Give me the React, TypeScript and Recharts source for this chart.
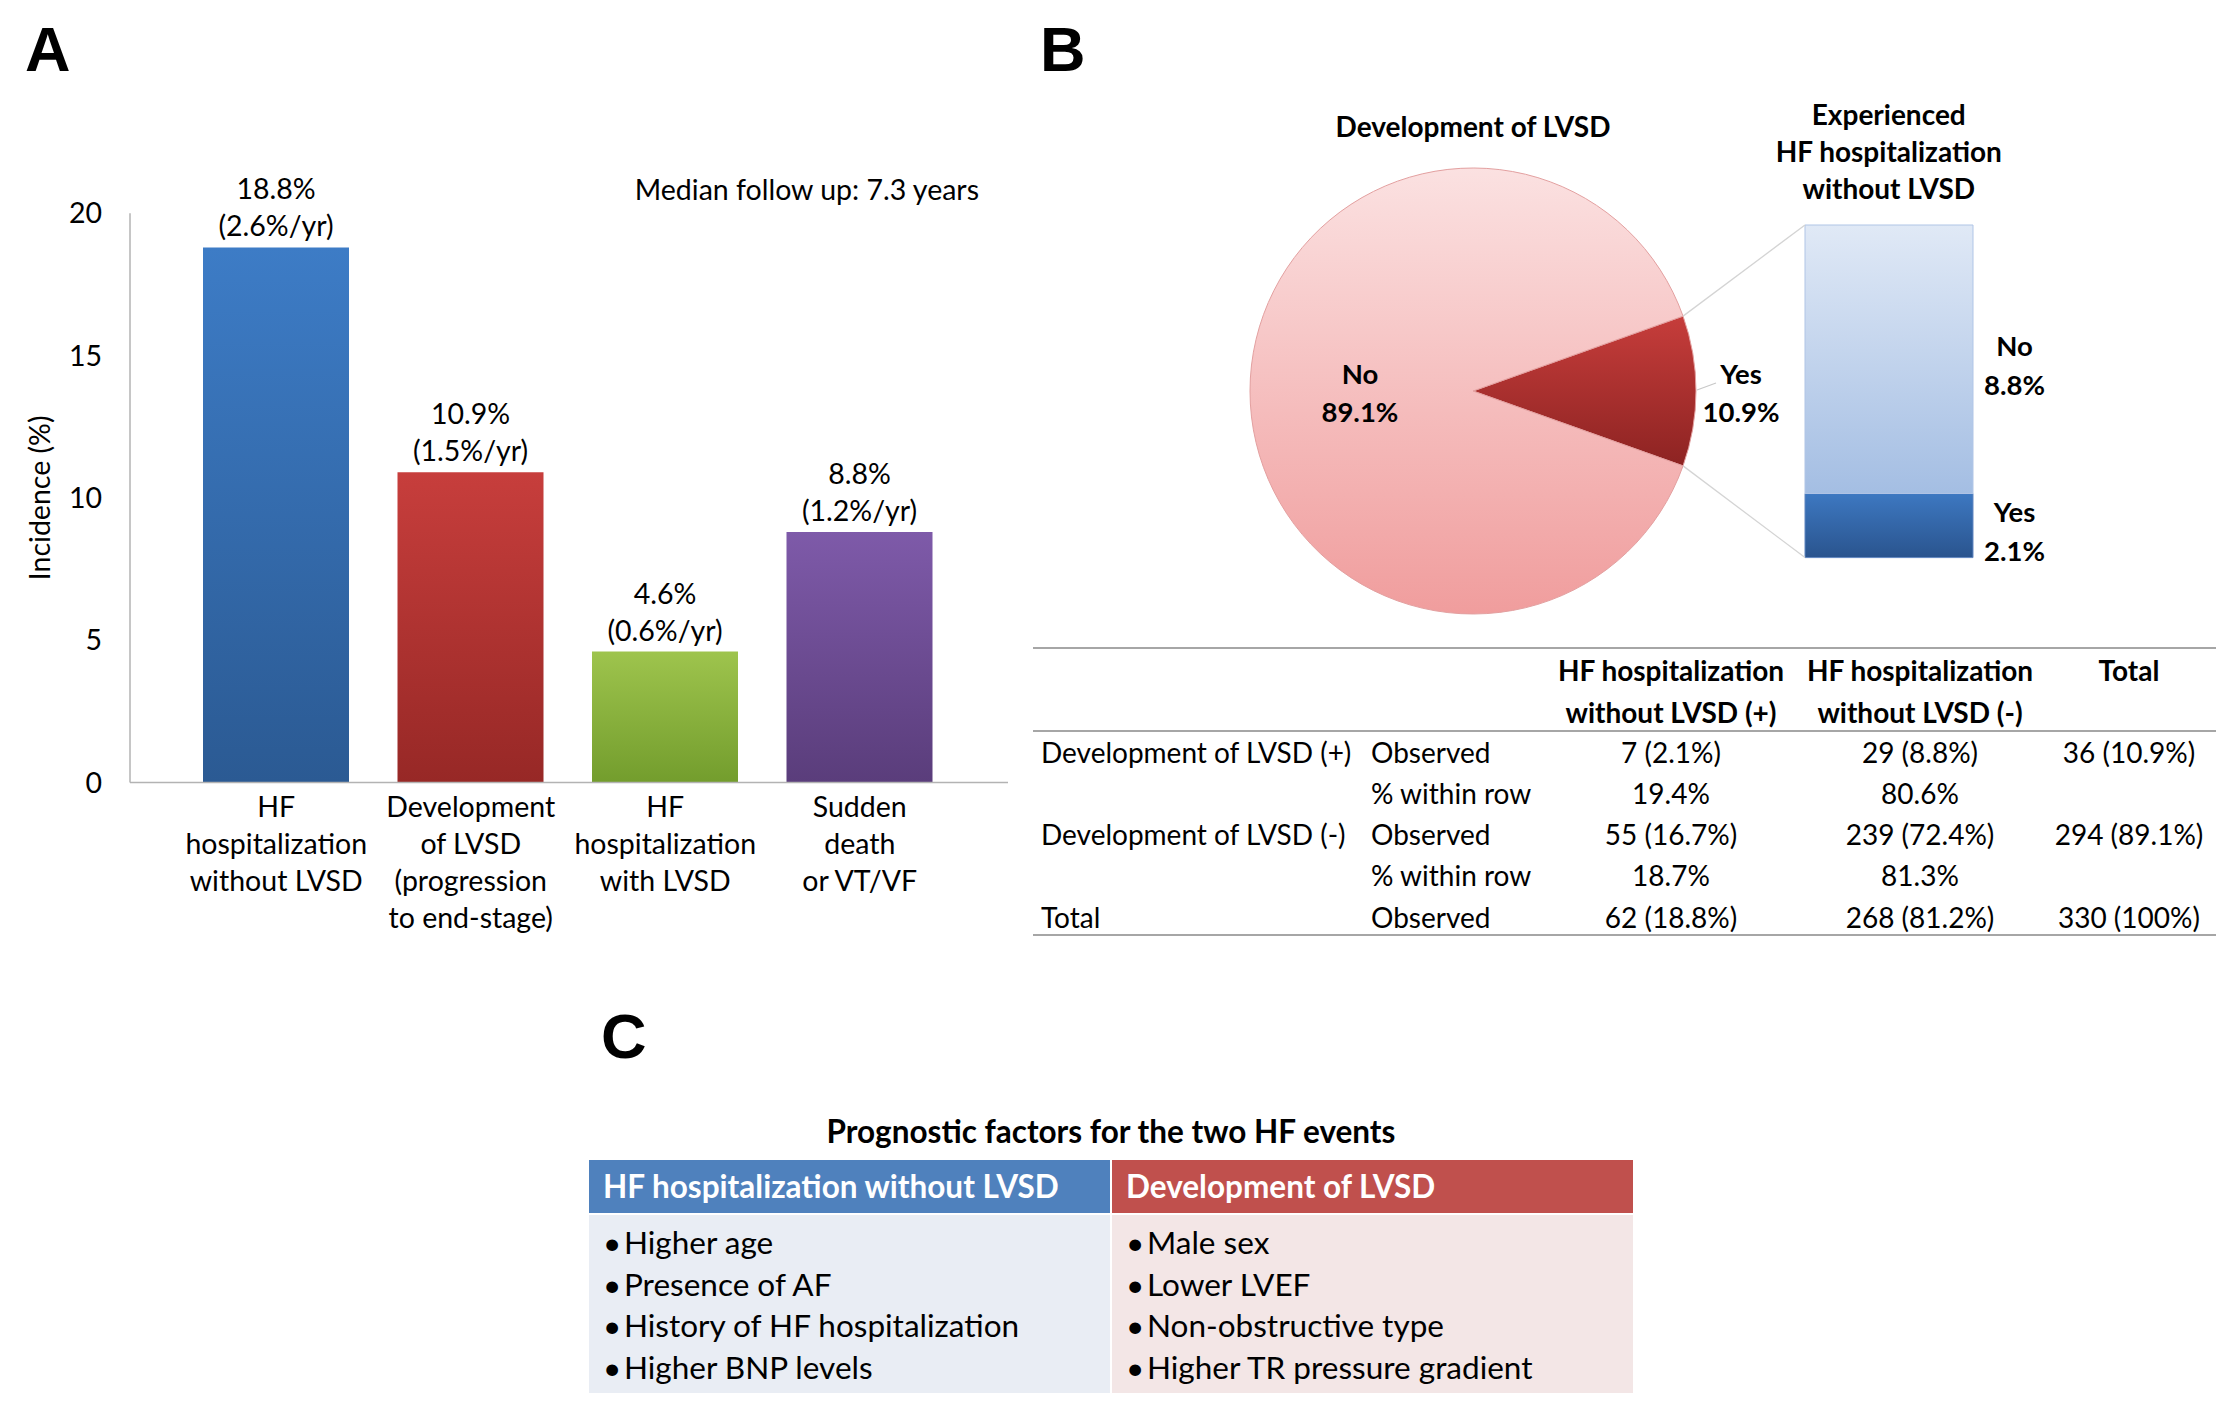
import React from 'react';
import { BarChart, Bar, XAxis, YAxis, Cell, LabelList, PieChart, Pie, Label } from 'recharts';

const FONT = 'Lato, "Noto Sans", sans-serif';
const LETTER_FONT = '"Liberation Sans", Arial, sans-serif';
const AXIS = '#b3b3b3';

// panel A: incidence of events
const eventLabels = [
  'HF|hospitalization|without LVSD',
  'Development|of LVSD|(progression|to end-stage)',
  'HF|hospitalization|with LVSD',
  'Sudden|death|or VT/VF',
];
const eventIncidence = [18.8, 10.9, 4.6, 8.8];
const eventAnnual = ['(2.6%/yr)', '(1.5%/yr)', '(0.6%/yr)', '(1.2%/yr)'];
const incidenceTicks = [0, 5, 10, 15, 20];
const eventColors = [
  ['#3d7cc6', '#2b5a93'],
  ['#c73e3c', '#972826'],
  ['#9ec44d', '#739d2d'],
  ['#7e5aa9', '#5a3d7b'],
];

// panel B: development of LVSD and HF hospitalization
const lvsdNames = ['Yes', 'No'];
const lvsdShare = [10.9, 89.1];
const hfNames = ['Yes', 'No'];
const hfShare = [2.1, 8.8];

const crossHead = [['HF hospitalization', 'without LVSD (+)'], ['HF hospitalization', 'without LVSD (-)'], ['Total']];
const crossRows = [
  ['Development of LVSD (+)', 'Observed', '7 (2.1%)', '29 (8.8%)', '36 (10.9%)'],
  ['', '% within row', '19.4%', '80.6%', ''],
  ['Development of LVSD (-)', 'Observed', '55 (16.7%)', '239 (72.4%)', '294 (89.1%)'],
  ['', '% within row', '18.7%', '81.3%', ''],
  ['Total', 'Observed', '62 (18.8%)', '268 (81.2%)', '330 (100%)'],
];

// panel C: prognostic factors
const factorHeads = ['HF hospitalization without LVSD', 'Development of LVSD'];
const factorLists = [
  ['Higher age', 'Presence of AF', 'History of HF hospitalization', 'Higher BNP levels'],
  ['Male sex', 'Lower LVEF', 'Non-obstructive type', 'Higher TR pressure gradient'],
];

const eventData = eventLabels.map((name, i) => ({ name, value: eventIncidence[i], annual: eventAnnual[i] }));
const lvsdData = lvsdNames.map((name, i) => ({ name, value: lvsdShare[i] }));
const hfData = [{ name: 'HF', yes: hfShare[0], no: hfShare[1] }];

// layout of panel B pieces
const PIE_CX = 1473;
const PIE_CY = 391;
const PIE_R = 223;
const HF_LEFT = 1805;
const HF_TOP = 225;
const HF_W = 167.5;
const HF_H = 332.6;

const RAD = Math.PI / 180;
const yesAngle = (360 * lvsdShare[0]) / (lvsdShare[0] + lvsdShare[1]);

const A_SIZE = 28.5;
const B_SIZE = 28;
const C_SIZE = 31.5;

function EventTick(props: any) {
  const { x, y, payload } = props;
  const lines = String(payload.value).split('|');
  return (
    <text x={x} y={y} textAnchor="middle" fontFamily={FONT} fontSize={A_SIZE} fill="#000">
      {lines.map((l, i) => (
        <tspan key={i} x={x} y={y + 35 + i * 36.7}>
          {l}
        </tspan>
      ))}
    </text>
  );
}

function TopLabel(offset: number, fmt: (v: any) => string) {
  return (props: any) => {
    const { x, y, width, value } = props;
    return (
      <text x={Number(x) + Number(width) / 2} y={Number(y) - offset} textAnchor="middle" fontFamily={FONT} fontSize={A_SIZE} fill="#000">
        {fmt(value)}
      </text>
    );
  };
}

function PieLabel(props: any) {
  const { cx, cy, midAngle, outerRadius, name, value } = props;
  const inside = name === 'No';
  const r = inside ? outerRadius * 0.507 : outerRadius + 45;
  const cos = Math.cos(-midAngle * RAD);
  const sin = Math.sin(-midAngle * RAD);
  const x = cx + r * cos;
  const y = cy + r * sin;
  return (
    <g>
      {!inside && (
        <line
          x1={cx + (outerRadius + 1) * cos}
          y1={cy + (outerRadius + 1) * sin - 1}
          x2={cx + (outerRadius + 20) * cos}
          y2={cy + (outerRadius + 20) * sin - 8}
          stroke="#c8c8c8"
          strokeWidth={1.2}
        />
      )}
      <text textAnchor="middle" fontFamily={FONT} fontSize={27.5} fontWeight={700} fill="#000">
        <tspan x={x} y={y - 17} dy="0.35em">{name}</tspan>
        <tspan x={x} y={y + 21} dy="0.35em">{value}%</tspan>
      </text>
    </g>
  );
}

function HfLabel(name: string) {
  return (props: any) => {
    const { x, y, width, height, value } = props;
    const tx = Number(x) + Number(width) + 41.5;
    const mid = Number(y) + Number(height) / 2;
    return (
      <text textAnchor="middle" fontFamily={FONT} fontSize={27.5} fontWeight={700} fill="#000">
        <tspan x={tx} y={mid - 13} dy="0.35em">{name}</tspan>
        <tspan x={tx} y={mid + 26} dy="0.35em">{value}%</tspan>
      </text>
    );
  };
}

export default function App() {
  const upper = [PIE_CX + PIE_R * Math.cos((yesAngle / 2) * RAD), PIE_CY - PIE_R * Math.sin((yesAngle / 2) * RAD)];
  const lower = [upper[0], PIE_CY + PIE_R * Math.sin((yesAngle / 2) * RAD)];
  const tableCols = [1041, 1371, 1671, 1920, 2129];

  return (
    <div style={{ position: 'absolute', left: 0, top: 0, width: 2219, height: 1421, background: '#fff', overflow: 'hidden', fontFamily: FONT }}>
      {/* panel A */}
      <div style={{ position: 'absolute', left: 0, top: 0 }}>
        <BarChart width={1030} height={1000} data={eventData} margin={{ top: 213.3, right: 22, bottom: 67.6, left: 50 }}>
          <defs>
            {eventColors.map((c, i) => (
              <linearGradient key={i} id={`evGrad${i}`} x1="0" y1="0" x2="0" y2="1">
                <stop offset="0%" stopColor={c[0]} />
                <stop offset="100%" stopColor={c[1]} />
              </linearGradient>
            ))}
          </defs>
          <XAxis
            dataKey="name"
            height={150}
            interval={0}
            tick={<EventTick />}
            tickLine={false}
            tickSize={0}
            tickMargin={0}
            axisLine={{ stroke: AXIS, strokeWidth: 1.5 }}
            padding={{ left: 49, right: 51 }}
          />
          <YAxis
            width={80}
            domain={[0, 20]}
            ticks={incidenceTicks}
            interval={0}
            tickLine={false}
            tickSize={0}
            tickMargin={28}
            axisLine={{ stroke: AXIS, strokeWidth: 1.5 }}
            tick={{ fontSize: A_SIZE, fill: '#000', fontFamily: FONT }}
          >
            <Label
              content={(p: any) => {
                const vb = p.viewBox;
                const cx = vb.x - 10;
                const cy = vb.y + vb.height / 2;
                return (
                  <text x={cx} y={cy} transform={`rotate(-90 ${cx} ${cy})`} textAnchor="middle" dy="0.35em" fontFamily={FONT} fontSize={28.5} fill="#000">
                    Incidence (%)
                  </text>
                );
              }}
            />
          </YAxis>
          <Bar dataKey="value" barSize={146} isAnimationActive={false}>
            {eventData.map((d, i) => (
              <Cell key={d.name} fill={`url(#evGrad${i})`} />
            ))}
            <LabelList dataKey="value" content={TopLabel(48, (v) => `${v}%`)} />
            <LabelList dataKey="annual" content={TopLabel(11, (v) => String(v))} />
          </Bar>
        </BarChart>
      </div>

      {/* panel B: pie */}
      <div style={{ position: 'absolute', left: PIE_CX - 350, top: PIE_CY - 300 }}>
        <PieChart width={700} height={600} margin={{ top: 0, right: 0, bottom: 0, left: 0 }}>
          <defs>
            <linearGradient id="pieYes" x1="0" y1="0" x2="0" y2="1">
              <stop offset="0%" stopColor="#c63d3b" />
              <stop offset="100%" stopColor="#8d2322" />
            </linearGradient>
            <linearGradient id="pieNo" x1="0" y1="0" x2="0" y2="1">
              <stop offset="0%" stopColor="#fbe1e1" />
              <stop offset="100%" stopColor="#f09d9d" />
            </linearGradient>
          </defs>
          <Pie
            data={lvsdData}
            dataKey="value"
            nameKey="name"
            cx={350}
            cy={300}
            outerRadius={PIE_R}
            startAngle={yesAngle / 2}
            endAngle={yesAngle / 2 - 360}
            stroke="#e3a0a0"
            strokeWidth={1}
            label={PieLabel}
            labelLine={false}
            isAnimationActive={false}
          >
            {lvsdData.map((d) => (
              <Cell key={d.name} fill={d.name === 'Yes' ? 'url(#pieYes)' : 'url(#pieNo)'} />
            ))}
          </Pie>
        </PieChart>
      </div>

      {/* panel B: stacked bar of HF hospitalization */}
      <div style={{ position: 'absolute', left: HF_LEFT - 15, top: HF_TOP - 25 }}>
        <BarChart
          width={300}
          height={HF_H + 50}
          data={hfData}
          barCategoryGap={0}
          margin={{ top: 25, right: 300 - 15 - HF_W, bottom: 25, left: 15 }}
        >
          <defs>
            <linearGradient id="hfNo" x1="0" y1="0" x2="0" y2="1">
              <stop offset="0%" stopColor="#e0e9f6" />
              <stop offset="100%" stopColor="#a4bee3" />
            </linearGradient>
            <linearGradient id="hfYes" x1="0" y1="0" x2="0" y2="1">
              <stop offset="0%" stopColor="#3d78c1" />
              <stop offset="100%" stopColor="#2a548e" />
            </linearGradient>
          </defs>
          <XAxis dataKey="name" hide height={0} />
          <YAxis hide width={0} domain={[0, hfShare[0] + hfShare[1]]} />
          <Bar dataKey="yes" stackId="hf" fill="url(#hfYes)" stroke="#5f86c0" strokeWidth={1} isAnimationActive={false}>
            <LabelList dataKey="yes" content={HfLabel(hfNames[0])} />
          </Bar>
          <Bar dataKey="no" stackId="hf" fill="url(#hfNo)" stroke="#b0c5e6" strokeWidth={1} isAnimationActive={false}>
            <LabelList dataKey="no" content={HfLabel(hfNames[1])} />
          </Bar>
        </BarChart>
      </div>

      {/* panel C table */}
      {factorHeads.map((h, i) => (
        <React.Fragment key={h}>
          <div
            style={{
              position: 'absolute',
              left: i === 0 ? 589 : 1112,
              top: 1160,
              width: 521,
              height: 53,
              background: i === 0 ? '#4f81bd' : '#c0504d',
              color: '#fff',
              fontWeight: 700,
              fontSize: C_SIZE,
              lineHeight: '53px',
              paddingLeft: 14,
              boxSizing: 'border-box',
              whiteSpace: 'nowrap',
            }}
          >
            {h}
          </div>
          <div
            style={{
              position: 'absolute',
              left: i === 0 ? 589 : 1112,
              top: 1215,
              width: 521,
              height: 178,
              background: i === 0 ? '#e9edf4' : '#f3e6e6',
              fontSize: C_SIZE,
              lineHeight: '41.7px',
              paddingLeft: 14,
              paddingTop: 7,
              boxSizing: 'border-box',
              color: '#000',
              whiteSpace: 'nowrap',
            }}
          >
            {factorLists[i].map((t) => (
              <div key={t}>
                <span style={{ display: 'inline-block', width: 21 }}>•</span>
                {t}
              </div>
            ))}
          </div>
        </React.Fragment>
      ))}

      {/* letters, connectors, cross table */}
      <svg width={2219} height={1421} style={{ position: 'absolute', left: 0, top: 0, pointerEvents: 'none' }}>
        <g fontFamily={LETTER_FONT} fontWeight={700} fontSize={63} fill="#000">
          <text x={25} y={71}>A</text>
          <text x={1040} y={71}>B</text>
          <text x={601} y={1058}>C</text>
        </g>
        <text x={979} y={190} dy="0.35em" textAnchor="end" fontFamily={FONT} fontSize={A_SIZE} fill="#000">
          Median follow up: 7.3 years
        </text>

        <text x={PIE_CX} y={127} dy="0.35em" textAnchor="middle" fontFamily={FONT} fontSize={B_SIZE} fontWeight={700}>
          Development of LVSD
        </text>
        <text textAnchor="middle" fontFamily={FONT} fontSize={B_SIZE} fontWeight={700}>
          {['Experienced', 'HF hospitalization', 'without LVSD'].map((l, i) => (
            <tspan key={l} x={HF_LEFT + HF_W / 2} y={115 + i * 37} dy="0.35em">
              {l}
            </tspan>
          ))}
        </text>
        <line x1={upper[0]} y1={upper[1]} x2={HF_LEFT} y2={HF_TOP} stroke="#d4d4d4" strokeWidth={1.3} />
        <line x1={lower[0]} y1={lower[1]} x2={HF_LEFT} y2={HF_TOP + HF_H} stroke="#d4d4d4" strokeWidth={1.3} />

        <g stroke="#a6a6a6" strokeWidth={2}>
          <line x1={1033} x2={2216} y1={648} y2={648} />
          <line x1={1033} x2={2216} y1={731} y2={731} />
          <line x1={1033} x2={2216} y1={935} y2={935} />
        </g>
        <g fontFamily={FONT} fontSize={B_SIZE} fontWeight={700} textAnchor="middle" fill="#000">
          {crossHead.map((lines, c) => (
            <text key={c}>
              {lines.map((l, i) => (
                <tspan key={i} x={tableCols[c + 2]} y={671 + i * 42} dy="0.35em">
                  {l}
                </tspan>
              ))}
            </text>
          ))}
        </g>
        <g fontFamily={FONT} fontSize={B_SIZE} fill="#000">
          {crossRows.map((row, r) =>
            row.map((cell, c) => (
              <text key={`${r}-${c}`} x={tableCols[c]} y={753 + r * 41.2} dy="0.35em" textAnchor={c < 2 ? 'start' : 'middle'}>
                {cell}
              </text>
            ))
          )}
        </g>

        <text x={1111} y={1132} dy="0.35em" textAnchor="middle" fontFamily={FONT} fontSize={C_SIZE} fontWeight={700}>
          Prognostic factors for the two HF events
        </text>
      </svg>
    </div>
  );
}
